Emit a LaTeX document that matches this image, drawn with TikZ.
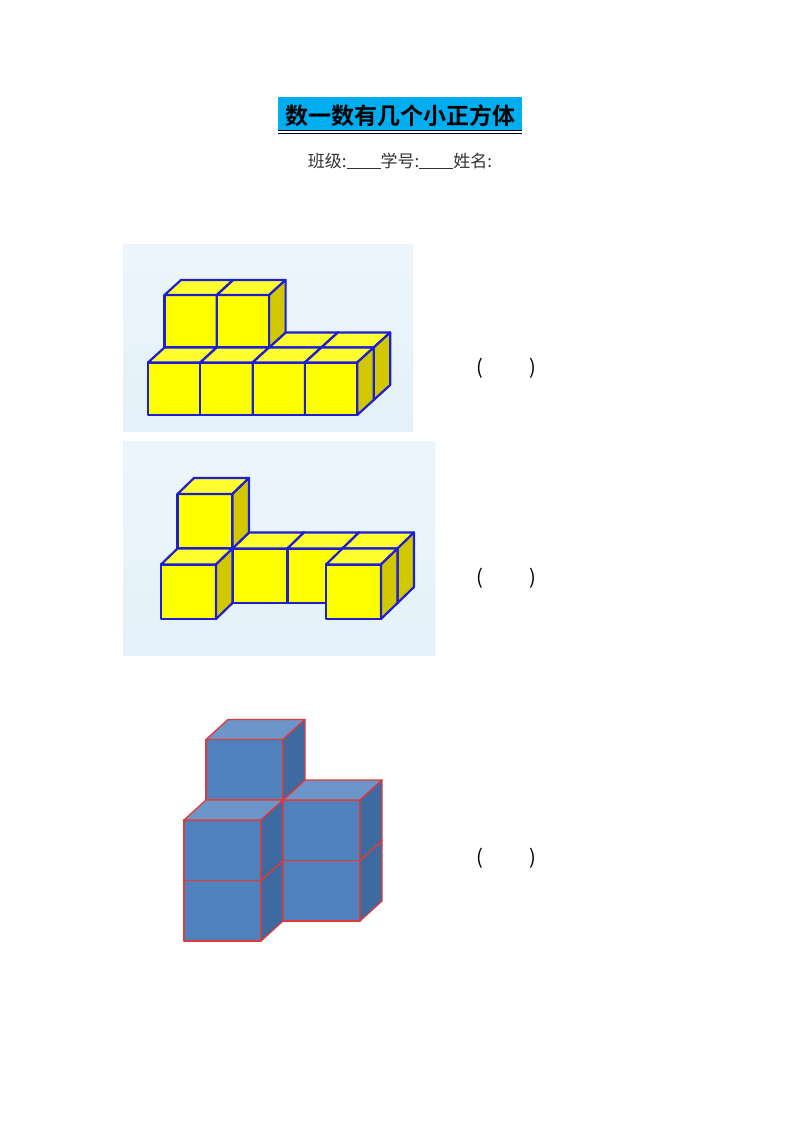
\documentclass[tikz,border=0pt]{standalone}
\usepackage{fontspec}
\newfontfamily\cjk{Noto Sans CJK SC}
\newfontfamily\cjkb{Noto Sans CJK SC Bold}
\begin{document}
\begin{tikzpicture}[x=1pt,y=-1pt,
  fr/.style={fill=\cf,draw=\ce,line width=\lw,line join=round},
  tp/.style={fill=\ct,draw=\ce,line width=\lw,line join=round},
  sd/.style={fill=\cs,draw=\ce,line width=\lw,line join=round},
  paren/.style={font=\cjk\fontsize{20}{20}\selectfont,inner sep=0pt}]
\definecolor{yf}{HTML}{FFFF00}\definecolor{yt}{HTML}{FFFF30}\definecolor{ys}{HTML}{D2C800}
\definecolor{ye}{HTML}{1E1ED2}
\definecolor{bf}{HTML}{4F81BD}\definecolor{bt}{HTML}{6C96C9}\definecolor{bs}{HTML}{3D6AA0}
\definecolor{be}{HTML}{E03A3A}
\definecolor{bgb}{HTML}{E4F1FA}
\useasboundingbox (0,0) rectangle (800,1132);
\fill[white] (0,0) rectangle (800,1132);
\newcommand\cb[3]{%
  \pgfmathsetmacro\X{\ox+#1*\cw+#3*\dx}%
  \pgfmathsetmacro\Y{\oy-#2*\ch-#3*\dy}%
  \path[fr] (\X,\Y) rectangle ++(\cw,-\ch);
  \path[tp] (\X,\Y-\ch) -- ++(\dx,-\dy) -- ++(\cw,0) -- ++(-\dx,\dy) -- cycle;
  \path[sd] (\X+\cw,\Y) -- ++(\dx,-\dy) -- ++(0,-\ch) -- ++(-\dx,\dy) -- cycle;}
% title
\fill[cyan] (278,97) rectangle (522,131);
\node[inner sep=0pt,font=\cjkb\fontsize{23}{23}\selectfont] (title) at (400,116) {数一数有几个小正方体};
\draw[line width=1pt] (278,130) -- (522,130);
\draw[line width=1pt] (278,133.5) -- (522,133.5);
\node[inner sep=0pt,font=\cjk\fontsize{17}{17}\selectfont,text=black!80] (info) at (400,161) {班级:\underline{\hspace{2em}}学号:\underline{\hspace{2em}}姓名:};
% figure 1
\shade[top color=bgb!70!white,bottom color=bgb] (123,244) rectangle (413,431);
\def\cf{yf}\def\ct{yt}\def\cs{ys}\def\ce{ye}\def\lw{2.2pt}
\def\ox{148}\def\oy{415}\def\cw{52.3}\def\ch{52.5}\def\dx{16.5}\def\dy{15}
\cb{0}{0}{1}\cb{1}{0}{1}\cb{2}{0}{1}\cb{3}{0}{1}
\cb{0}{1}{1}\cb{1}{1}{1}
\cb{0}{0}{0}\cb{1}{0}{0}\cb{2}{0}{0}\cb{3}{0}{0}
% figure 2
\shade[top color=bgb!70!white,bottom color=bgb] (123,441) rectangle (435,655);
\def\ox{161}\def\oy{619}\def\cw{55}\def\ch{54.5}\def\dx{16.5}\def\dy{16}
\cb{0}{0}{1}\cb{1}{0}{1}\cb{2}{0}{1}\cb{3}{0}{1}
\cb{0}{1}{1}
\cb{0}{0}{0}\cb{3}{0}{0}
% figure 3
\def\cf{bf}\def\ct{bt}\def\cs{bs}\def\ce{be}\def\lw{1.3pt}
\def\ox{184}\def\oy{941}\def\cw{77}\def\ch{60.5}\def\dx{22}\def\dy{20}
\cb{0}{0}{1}\cb{1}{0}{1}\cb{0}{1}{1}\cb{1}{1}{1}\cb{0}{2}{1}
\cb{0}{0}{0}\cb{0}{1}{0}
% answer parentheses
\node[paren] (p1l) at (480,368) {(};\node[paren] (p1r) at (533,368) {)};
\node[paren] (p2l) at (480,578) {(};\node[paren] (p2r) at (533,578) {)};
\node[paren] (p3l) at (480,858) {(};\node[paren] (p3r) at (533,858) {)};
\end{tikzpicture}
\end{document}
